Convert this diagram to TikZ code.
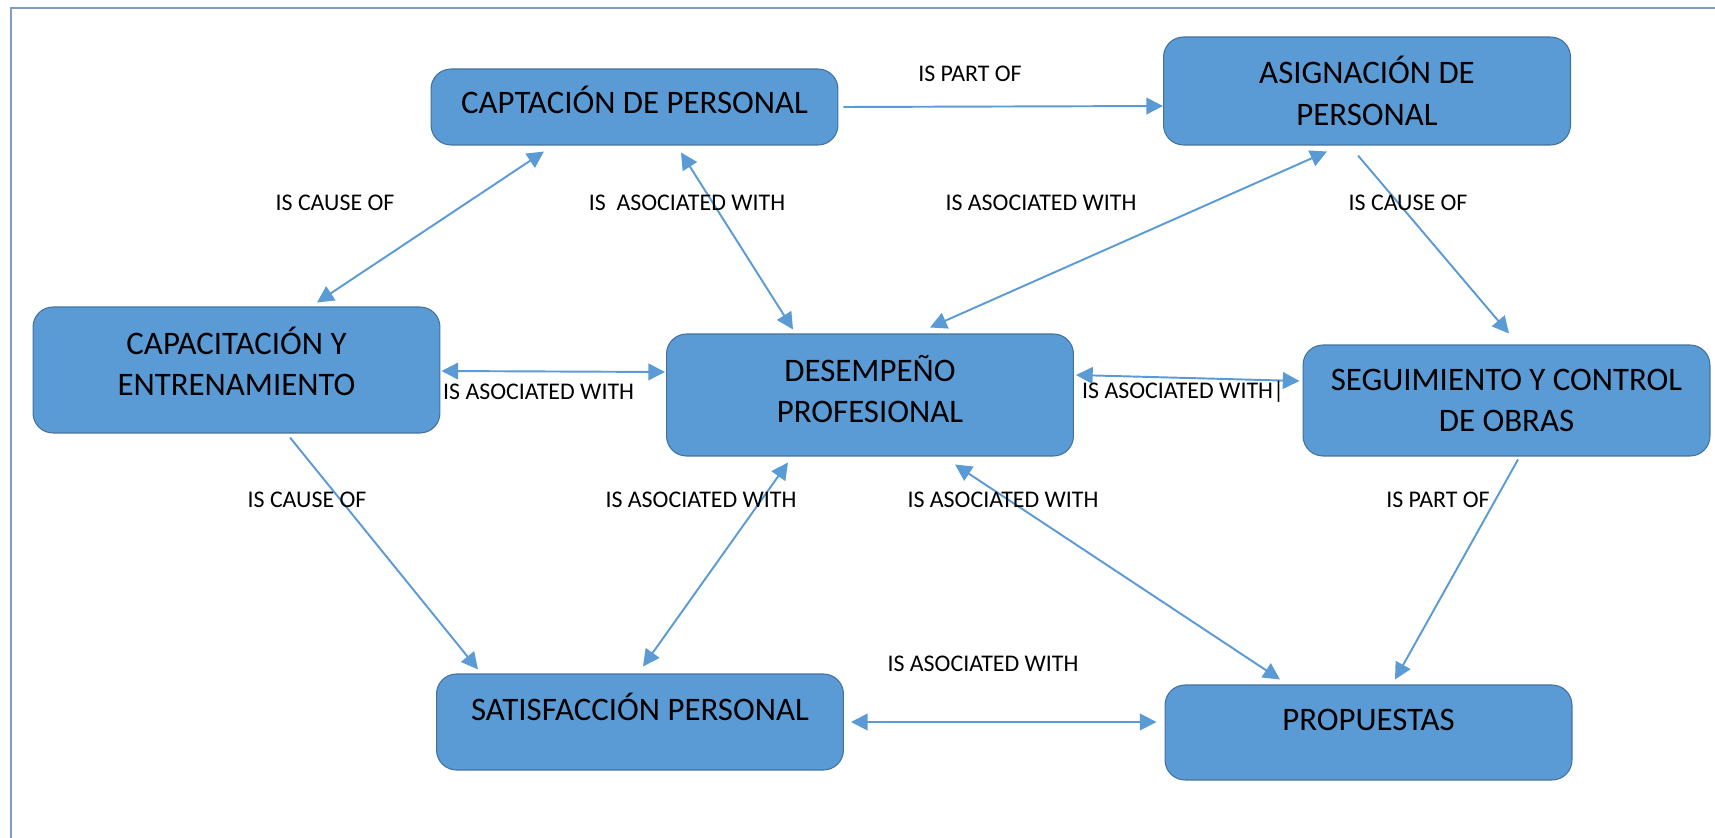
\documentclass[tikz,border=0pt]{standalone}
\usepackage{fontspec}
\setmainfont{Carlito}
\usetikzlibrary{arrows.meta, positioning, calc}

\definecolor{boxfill}{RGB}{91,155,213}
\definecolor{boxline}{RGB}{65,113,156}
\definecolor{linkcol}{RGB}{91,155,213}
\definecolor{framecol}{RGB}{125,158,194}

\begin{document}
\begin{tikzpicture}[
		x=0.02cm, y=-0.02cm,
		>={Triangle[length=9.5pt, width=9.5pt]},
		box/.style={draw=boxline, line width=0.6pt, fill=boxfill, rounded corners=0.4cm, align=center,
			minimum width=8.14cm, inner sep=0pt, font=\fontsize{18.7}{23.5}\selectfont},
		link/.style={draw=linkcol, line width=1.1pt},
		tag/.style={font=\fontsize{13.6}{16}\selectfont, inner sep=1pt}
		]
		
		\useasboundingbox (0,0) rectangle (1715,838);
		
		% =========================================================
		% 1. Frame
		% =========================================================
		\draw[framecol, line width=1.7pt] (11,838) -- (11,8) -- (1715,8);
		
		% =========================================================
		% 2. Boxes
		% =========================================================
		\node[box, minimum height=1.52cm, text depth=0.3cm] (CaptBox) at (634.5,107) {CAPTACIÓN DE PERSONAL};
		\node[box, minimum height=2.16cm] (AsigBox) at (1367,91) {ASIGNACIÓN DE\\PERSONAL};
		\node[box, minimum height=2.52cm, text depth=0.35cm] (CapaBox) at (236.5,370) {CAPACITACIÓN Y\\ENTRENAMIENTO};
		\node[box, minimum height=2.44cm, text depth=0.25cm] (DeseBox) at (870,395) {DESEMPEÑO\\PROFESIONAL};
		\node[box, minimum height=2.22cm] (SeguBox) at (1506.5,400.5) {SEGUIMIENTO Y CONTROL\\DE OBRAS};
		\node[box, minimum height=1.92cm, text depth=0.6cm] (SatiBox) at (640,722) {SATISFACCIÓN PERSONAL};
		\node[box, minimum height=1.90cm, text depth=0.5cm] (PropBox) at (1368.5,732.5) {PROPUESTAS};
		
		% =========================================================
		% 3. Connectors
		% =========================================================
		\draw[link, ->] ($(CaptBox.east)+(5,0)$) -- ($(AsigBox.west)+(0,15)$);
		\draw[link, <->] ($(CaptBox.south)+(-90.5,6)$) -- ($(CapaBox.north)+(80.5,-4)$);
		\draw[link, <->] ($(CaptBox.south)+(46.5,7)$) -- ($(DeseBox.north)+(-77,-4)$);
		\draw[link, <->] ($(AsigBox.south)+(-40,6)$) -- ($(DeseBox.north)+(60,-6)$);
		\draw[link, ->] ($(AsigBox.south)+(-9,10)$) -- ($(SeguBox.north)+(2.5,-11)$);
		\draw[link, <->] ($(CapaBox.east)+(1,1)$) -- ($(DeseBox.west)+(-1,-23)$);
		\draw[link, <->] ($(DeseBox.east)+(2,-20)$) -- ($(SeguBox.west)+(-3,-19.5)$);
		\draw[link, ->] ($(CapaBox.south)+(53.5,4)$) -- ($(SatiBox.north)+(-162,-4)$);
		\draw[link, <->] ($(SatiBox.north)+(3,-7)$) -- ($(DeseBox.south)+(-82,6)$);
		\draw[link, <->] ($(PropBox.north)+(-88.5,-5)$) -- ($(DeseBox.south)+(85,8)$);
		\draw[link, ->] ($(SeguBox.south)+(11.5,3)$) -- ($(PropBox.north)+(26.5,-5)$);
		\draw[link, <->] ($(SatiBox.east)+(7,0)$) -- ($(PropBox.west)+(-8,-10.5)$);
		
		% =========================================================
		% 4. Labels
		% =========================================================
		\node[tag] (PartTop) at (970,74) {IS PART OF};
		\node[tag] (CauseLeft) at (335,203) {IS CAUSE OF};
		\node[tag] (AsocCapt) at (687,203) {IS\ \ ASOCIATED WITH};
		\node[tag] (AsocAsig) at (1041,203) {IS ASOCIATED WITH};
		\node[tag] (CauseRight) at (1408,203) {IS CAUSE OF};
		\node[tag, anchor=west] (AsocCapa) at (441,392) {IS ASOCIATED WITH};
		\node[tag, anchor=west] (AsocSegu) at (1080,392) {IS ASOCIATED WITH|};
		\node[tag] (CauseLow) at (307,500) {IS CAUSE OF};
		\node[tag] (AsocSati) at (701,500) {IS ASOCIATED WITH};
		\node[tag] (AsocProp) at (1003,500) {IS ASOCIATED WITH};
		\node[tag] (PartLow) at (1438,500) {IS PART OF};
		\node[tag] (AsocBottom) at (983,664) {IS ASOCIATED WITH};
	\end{tikzpicture}
\end{document}
